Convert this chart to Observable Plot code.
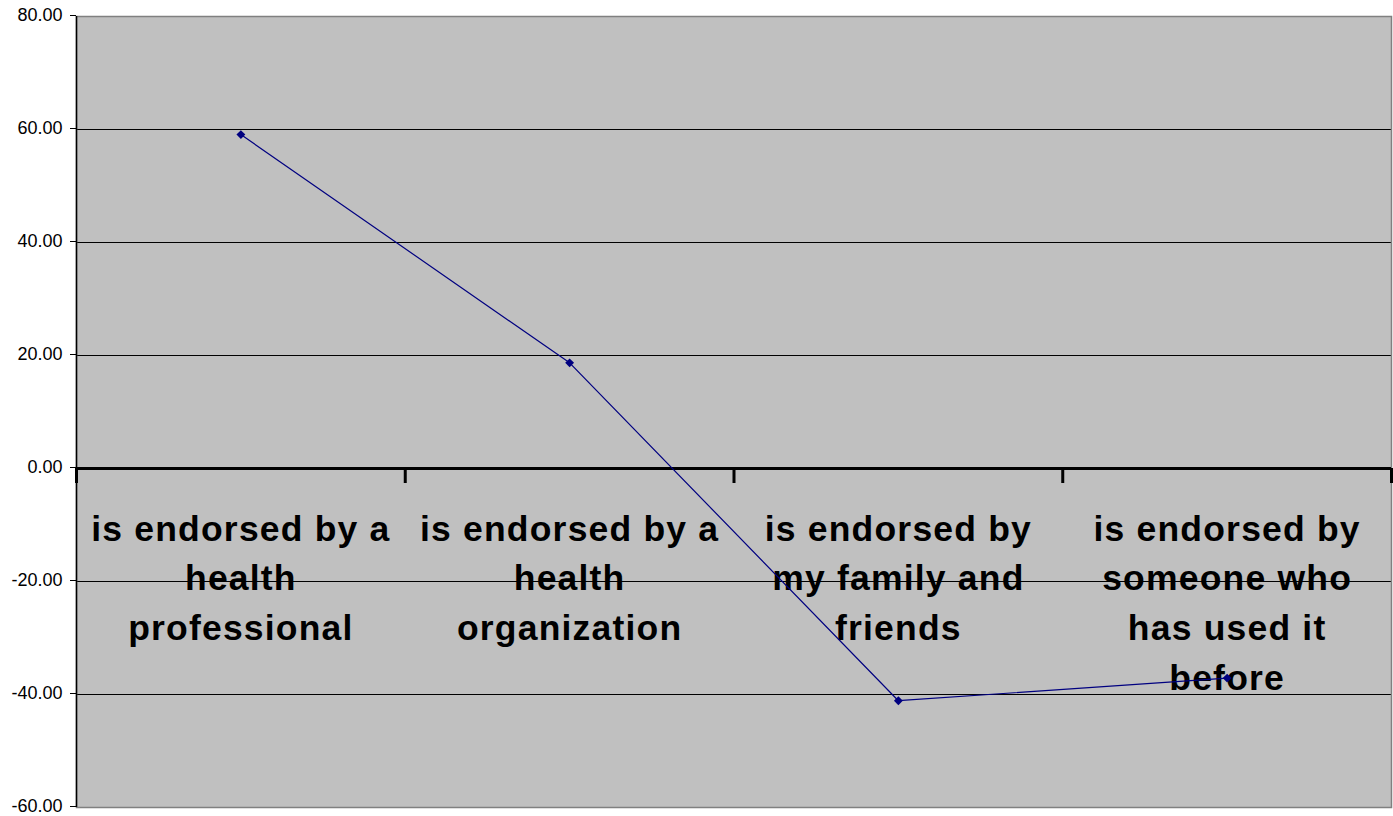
<!DOCTYPE html>
<html>
<head>
<meta charset="utf-8">
<script src="https://cdn.jsdelivr.net/npm/d3@7"></script>
<script src="https://cdn.jsdelivr.net/npm/@observablehq/plot@0.6"></script>
<style>
  html, body { margin: 0; padding: 0; background: #ffffff; }
  #chart svg { display: block; }
  #chart g[font-weight="bold"] text { letter-spacing: 1.2px; }
</style>
</head>
<body>
<div id="chart"></div>
<script>
const categories = [
  "is endorsed by a health professional",
  "is endorsed by a health organization",
  "is endorsed by my family and friends",
  "is endorsed by someone who has used it before"
];
const categoryLabels = [
  "is endorsed by a\nhealth\nprofessional",
  "is endorsed by a\nhealth\norganization",
  "is endorsed by\nmy family and\nfriends",
  "is endorsed by\nsomeone who\nhas used it\nbefore"
];
const values = [59.1, 18.7, -41.1, -37.1];
const yTicks = [-60, -40, -20, 0, 20, 40, 60, 80];

const data = categories.map((c, i) => ({i, category: c, label: categoryLabels[i], value: values[i]}));
const boundaries = d3.range(categories.length + 1).map(i => i - 0.5);
const innerGrid = yTicks.filter(t => t !== 0 && t !== d3.min(yTicks) && t !== d3.max(yTicks));

const chart = Plot.plot({
  width: 1393,
  height: 816,
  marginLeft: 76,
  marginRight: 2,
  marginTop: 16,
  marginBottom: 9,
  style: {fontFamily: "'Liberation Sans', Arial, sans-serif", background: "#ffffff"},
  x: {type: "linear", domain: [-0.5, categories.length - 0.5], axis: null},
  y: {domain: [d3.min(yTicks), d3.max(yTicks)], axis: null},
  marks: [
    Plot.frame({fill: "#c0c0c0", stroke: null}),
    Plot.ruleY(innerGrid, {stroke: "#000000", strokeWidth: 1}),
    Plot.frame({stroke: "#808080", strokeWidth: 1.5}),
    Plot.ruleX([boundaries[0]], {stroke: "#000000", strokeWidth: 1.5}),
    Plot.axisY({ticks: yTicks, tickFormat: d => d.toFixed(2), tickSize: 6, tickPadding: 8, fontSize: 18, label: null, stroke: "#000000", color: "#000000", dy: -1}),
    Plot.ruleY([0], {stroke: "#000000", strokeWidth: 3}),
    Plot.ruleX(boundaries, {y1: 0, y2: 0, insetBottom: -15, stroke: "#000000", strokeWidth: 3}),
    Plot.text(data, {x: "i", y: () => 0, text: "label", lineAnchor: "top", lineHeight: 1.4, dy: 37, fontSize: 35.5, fontWeight: "bold", fill: "#000000"}),
    Plot.line(data, {x: "i", y: "value", stroke: "#000080", strokeWidth: 1.2}),
    Plot.dot(data, {x: "i", y: "value", symbol: "diamond2", r: 4, fill: "#000080", stroke: "none"})
  ]
});
document.getElementById("chart").appendChild(chart);
</script>
</body>
</html>
